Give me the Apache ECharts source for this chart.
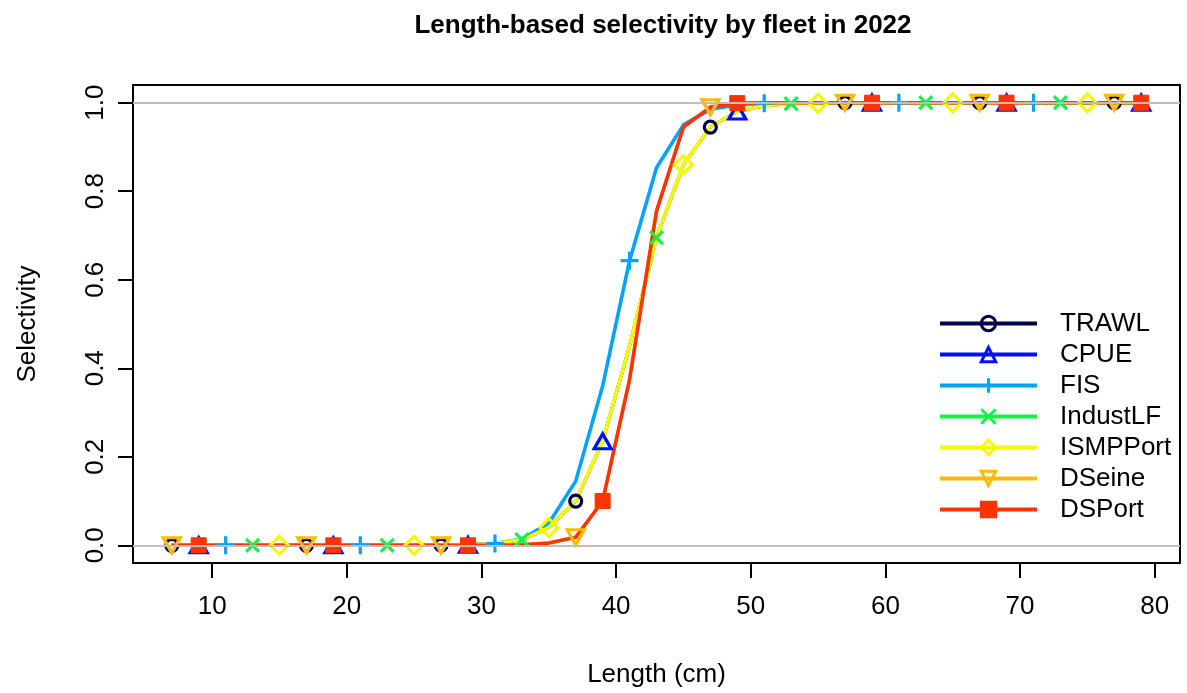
<!DOCTYPE html>
<html>
<head>
<meta charset="utf-8">
<script src="https://cdn.jsdelivr.net/npm/echarts@6/dist/echarts.min.js"></script>
<style>
  html, body { margin: 0; padding: 0; background: #ffffff; }
  #chart { width: 1187px; height: 693px; }
</style>
</head>
<body>
<div id="chart"></div>
<script>
// ---- data ----
const lengths = [7, 9, 11, 13, 15, 17, 19, 21, 23, 25, 27, 29, 31, 33, 35, 37, 39, 41, 43, 45, 47, 49, 51, 53, 55, 57, 59, 61, 63, 65, 67, 69, 71, 73, 75, 77, 79];

// shared curve for TRAWL / CPUE / IndustLF / ISMPPort
const trawlSel   = [0, 0, 0, 0, 0, 0, 0, 0, 0, 0, 0.0005, 0.001, 0.004, 0.013, 0.04, 0.10, 0.235, 0.45, 0.695, 0.86, 0.945, 0.98, 0.993, 0.998, 0.999, 1, 1, 1, 1, 1, 1, 1, 1, 1, 1, 1, 1];
const cpueSel    = [0, 0, 0, 0, 0, 0, 0, 0, 0, 0, 0.0005, 0.001, 0.004, 0.013, 0.04, 0.10, 0.235, 0.45, 0.695, 0.86, 0.945, 0.98, 0.993, 0.998, 0.999, 1, 1, 1, 1, 1, 1, 1, 1, 1, 1, 1, 1];
const fisSel     = [0, 0, 0, 0, 0, 0, 0, 0, 0, 0, 0.0005, 0.001, 0.004, 0.014, 0.05, 0.145, 0.36, 0.643, 0.853, 0.95, 0.985, 0.995, 0.999, 1, 1, 1, 1, 1, 1, 1, 1, 1, 1, 1, 1, 1, 1];
const industSel  = [0, 0, 0, 0, 0, 0, 0, 0, 0, 0, 0.0005, 0.001, 0.004, 0.013, 0.04, 0.10, 0.235, 0.45, 0.695, 0.86, 0.945, 0.98, 0.993, 0.998, 0.999, 1, 1, 1, 1, 1, 1, 1, 1, 1, 1, 1, 1];
const ismpSel    = [0, 0, 0, 0, 0, 0, 0, 0, 0, 0, 0.0005, 0.001, 0.004, 0.013, 0.04, 0.10, 0.235, 0.45, 0.695, 0.86, 0.945, 0.98, 0.993, 0.998, 0.999, 1, 1, 1, 1, 1, 1, 1, 1, 1, 1, 1, 1];
const dseineSel  = [0, 0, 0, 0, 0, 0, 0, 0, 0, 0, 0, 0, 0.0003, 0.001, 0.005, 0.018, 0.10, 0.375, 0.755, 0.945, 0.99, 0.999, 1, 1, 1, 1, 1, 1, 1, 1, 1, 1, 1, 1, 1, 1, 1];
const dsportSel  = [0, 0, 0, 0, 0, 0, 0, 0, 0, 0, 0, 0, 0.0003, 0.001, 0.005, 0.018, 0.10, 0.375, 0.755, 0.945, 0.99, 0.999, 1, 1, 1, 1, 1, 1, 1, 1, 1, 1, 1, 1, 1, 1, 1];

const fleetNames = ["TRAWL", "CPUE", "FIS", "IndustLF", "ISMPPort", "DSeine", "DSPort"];
const markerStart = [0, 1, 2, 3, 4, 0, 1];   // index of first marked point
const markerEvery = 5;

const xTicks = [10, 20, 30, 40, 50, 60, 70, 80];
const yTicks = [0, 0.2, 0.4, 0.6, 0.8, 1.0];
const refLines = [0, 1];

// ---- styling ----
const colors = ["#00004A", "#0010FF", "#00A4FF", "#13F24A", "#F6F906", "#FFB900", "#FF3300"];
const lineWidths = [3.0, 3.0, 3.6, 3.0, 3.6, 3.0, 3.6];
const FONT = "Liberation Sans, Arial, sans-serif";
const symbols = [
  { symbol: "circle", size: 12, filled: false },
  { symbol: "triangle", size: [17, 15], filled: false },
  { symbol: "path://M0,8L16,8M8,0L8,16", size: 18, filled: false },
  { symbol: "path://M0,0L14,14M14,0L0,14", size: 13, filled: false },
  { symbol: "diamond", size: 18, filled: false },
  { symbol: "path://M0,0L16,0L8,14Z", size: [17, 15], filled: false },
  { symbol: "rect", size: 15, filled: true }
];
const allValues = [trawlSel, cpueSel, fisSel, industSel, ismpSel, dseineSel, dsportSel];

const series = fleetNames.map((name, i) => {
  const vals = allValues[i];
  const data = lengths.map((L, j) => {
    const marked = j >= markerStart[i] && (j - markerStart[i]) % markerEvery === 0;
    return marked ? { value: [L, vals[j]] } : { value: [L, vals[j]], symbol: "none" };
  });
  const s = {
    name: name,
    type: "line",
    data: data,
    symbol: symbols[i].symbol,
    symbolSize: symbols[i].size,
    showAllSymbol: true,
    symbolKeepAspect: false,
    lineStyle: { color: colors[i], width: lineWidths[i] },
    itemStyle: {
      color: symbols[i].filled ? colors[i] : "rgba(0,0,0,0)",
      borderColor: colors[i],
      borderWidth: symbols[i].filled ? 1 : 3.2
    },
    emphasis: { disabled: true },
    silent: true,
    animation: false,
    z: 2
  };
  if (i === 0) {
    s.markLine = {
      silent: true,
      symbol: "none",
      label: { show: false },
      lineStyle: { color: "#BEBEBE", width: 2, type: "solid" },
      data: refLines.map(v => ({ yAxis: v })),
      animation: false
    };
  }
  return s;
});

const chart = echarts.init(document.getElementById("chart"), null, { renderer: "canvas" });
chart.setOption({
  backgroundColor: "#ffffff",
  animation: false,
  title: {
    text: "Length-based selectivity by fleet in 2022",
    left: 658,
    textAlign: "center",
    top: 8,
    textStyle: { fontFamily: FONT, fontSize: 26, fontWeight: "bold", color: "#000" }
  },
  grid: {
    left: 133, right: 7, top: 85, bottom: 129,
    show: true, borderColor: "#000", borderWidth: 2, backgroundColor: "transparent"
  },
  legend: {
    orient: "vertical",
    left: 933,
    top: 305,
    itemWidth: 97,
    itemHeight: 18,
    itemGap: 4,
    data: fleetNames,
    lineStyle: { width: 4 },
    itemStyle: { borderWidth: 3 },
    textStyle: { fontFamily: FONT, fontSize: 26, color: "#000", padding: [0, 0, 0, 18], lineHeight: 27 }
  },
  xAxis: {
    type: "value",
    min: 4.12,
    max: 81.88,
    name: "Length (cm)",
    nameLocation: "middle",
    nameGap: 99,
    nameTextStyle: { fontFamily: FONT, fontSize: 26, color: "#000" },
    axisLine: { show: false, onZero: false },
    axisTick: { show: true, length: 15, lineStyle: { color: "#000", width: 2 }, customValues: xTicks },
    axisLabel: { fontFamily: FONT, fontSize: 26, color: "#000", margin: 31, customValues: xTicks },
    splitLine: { show: false }
  },
  yAxis: {
    type: "value",
    min: -0.04,
    max: 1.04,
    name: "Selectivity",
    nameLocation: "middle",
    nameRotate: 90,
    nameGap: 92,
    nameTextStyle: { fontFamily: FONT, fontSize: 26, color: "#000" },
    axisLine: { show: false, onZero: false },
    axisTick: { show: true, length: 15, lineStyle: { color: "#000", width: 2 }, customValues: yTicks },
    axisLabel: {
      fontFamily: FONT, fontSize: 26, color: "#000", margin: 24, rotate: 90,
      customValues: yTicks,
      formatter: v => v.toFixed(1)
    },
    splitLine: { show: false }
  },
  series: series
});
</script>
</body>
</html>
